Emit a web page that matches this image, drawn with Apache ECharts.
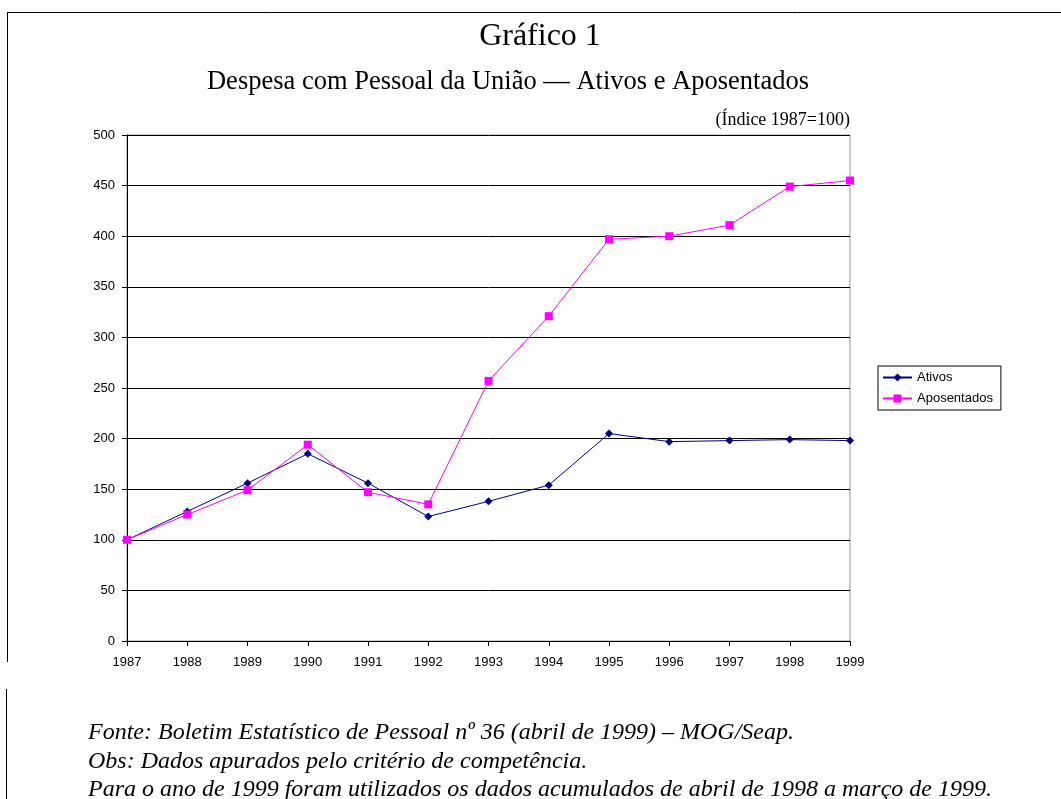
<!DOCTYPE html>
<html>
<head>
<meta charset="utf-8">
<title>Gráfico 1</title>
<script src="https://cdn.jsdelivr.net/npm/echarts@6/dist/echarts.min.js"></script>
<style>
  html, body { margin: 0; padding: 0; background: #fff; }
  #main { width: 1061px; height: 799px; }
</style>
</head>
<body>
<div id="main"></div>
<script>
// dados (índice 1987=100)
var anos = ['1987', '1988', '1989', '1990', '1991', '1992', '1993', '1994', '1995', '1996', '1997', '1998', '1999'];
var ativos = [100, 128, 156, 185, 156, 123, 138, 154, 205, 197, 198, 199, 198];
var aposentados = [100, 125, 149, 194, 147, 135, 257, 321, 397, 400, 411, 449, 455];
var notas = [
  'Fonte: Boletim Estatístico de Pessoal nº 36 (abril de 1999) – MOG/Seap.',
  'Obs: Dados apurados pelo critério de competência.',
  'Para o ano de 1999 foram utilizados os dados acumulados de abril de 1998 a março de 1999.'
];

var serif = '"Liberation Serif", "DejaVu Serif", serif';
var sans = '"Liberation Sans", Arial, sans-serif';

var myChart = echarts.init(document.getElementById('main'));

var graficos = [
  // moldura
  { type: 'line', shape: { x1: 7, y1: 12.5, x2: 1061, y2: 12.5 }, style: { stroke: '#000', lineWidth: 1 } },
  { type: 'line', shape: { x1: 7.5, y1: 12, x2: 7.5, y2: 662 }, style: { stroke: '#000', lineWidth: 1 } },
  { type: 'line', shape: { x1: 6.5, y1: 689, x2: 6.5, y2: 799 }, style: { stroke: '#000', lineWidth: 1 } },
  // títulos
  { type: 'text', x: 540, y: 37, style: { text: 'Gráfico 1', font: '32px ' + serif, fill: '#000', align: 'center', verticalAlign: 'middle' } },
  { type: 'text', x: 508, y: 82, style: { text: 'Despesa com Pessoal da União — Ativos e Aposentados', font: '26.5px ' + serif, fill: '#000', align: 'center', verticalAlign: 'middle' } },
  { type: 'text', x: 850, y: 120, style: { text: '(Índice 1987=100)', font: '18px ' + serif, fill: '#000', align: 'right', verticalAlign: 'middle' } }
];
for (var i = 0; i < notas.length; i++) {
  graficos.push({
    type: 'text', x: 88, y: 733 + i * 28.5,
    style: { text: notas[i], font: 'italic 24px ' + serif, fill: '#000', verticalAlign: 'middle' }
  });
}

var option = {
  animation: false,
  legend: {
    orient: 'vertical',
    left: 878, top: 366,
    padding: [5, 8, 5, 4],
    itemGap: 8,
    itemWidth: 29, itemHeight: 10,
    borderColor: '#000', borderWidth: 1,
    textStyle: { fontFamily: sans, fontSize: 13, color: '#000' },
    data: ['Ativos', 'Aposentados']
  },
  grid: {
    left: 127, right: 211, top: 135, bottom: 158,
    show: true, borderColor: '#999', borderWidth: 1
  },
  xAxis: {
    type: 'category',
    boundaryGap: false,
    data: anos,
    axisLine: { lineStyle: { color: '#000' } },
    axisTick: { show: true, length: 5, lineStyle: { color: '#000' } },
    axisLabel: { fontFamily: sans, fontSize: 13, color: '#000', margin: 15 }
  },
  yAxis: {
    type: 'value',
    min: 0, max: 500, interval: 50,
    axisLine: { show: true, lineStyle: { color: '#000' } },
    axisTick: { show: true, length: 5, lineStyle: { color: '#000' } },
    axisLabel: { fontFamily: sans, fontSize: 13, color: '#000', margin: 12 },
    splitLine: { lineStyle: { color: '#000', width: 1 } }
  },
  series: [
    {
      name: 'Ativos', type: 'line', data: ativos,
      symbol: 'diamond', symbolSize: 8,
      lineStyle: { color: '#000080', width: 1 },
      itemStyle: { color: '#000080' }
    },
    {
      name: 'Aposentados', type: 'line', data: aposentados,
      symbol: 'rect', symbolSize: 8,
      lineStyle: { color: '#ff00ff', width: 1 },
      itemStyle: { color: '#ff00ff' }
    }
  ],
  graphic: graficos
};
myChart.setOption(option);
</script>
</body>
</html>
